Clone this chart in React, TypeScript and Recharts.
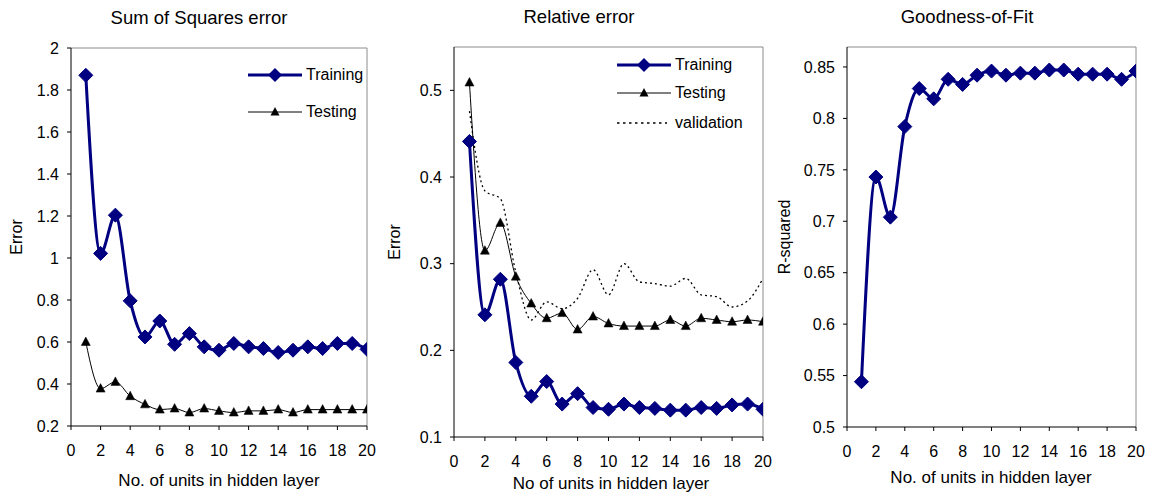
import React from 'react';
import { LineChart, Line, XAxis, YAxis, ReferenceLine } from 'recharts';

const NAVY = '#000080';
const FRAME = '#8c8c8c';
const FONT = '"Liberation Sans", Arial, Helvetica, sans-serif';

// categories
const units = [1, 2, 3, 4, 5, 6, 7, 8, 9, 10, 11, 12, 13, 14, 15, 16, 17, 18, 19, 20];
const xTicks = [0, 2, 4, 6, 8, 10, 12, 14, 16, 18, 20];

// Sum of squares error
const sseTraining = [1.87, 1.022, 1.204, 0.796, 0.624, 0.7, 0.589, 0.64, 0.577, 0.561, 0.593, 0.577, 0.569, 0.55, 0.561, 0.577, 0.569, 0.593, 0.593, 0.565];
const sseTesting = [0.6, 0.378, 0.41, 0.342, 0.303, 0.278, 0.283, 0.264, 0.283, 0.272, 0.264, 0.272, 0.272, 0.278, 0.264, 0.278, 0.278, 0.278, 0.278, 0.278];
const sseTicks = [0.2, 0.4, 0.6, 0.8, 1, 1.2, 1.4, 1.6, 1.8, 2];

// Relative error
const relTraining = [0.441, 0.241, 0.282, 0.186, 0.147, 0.164, 0.138, 0.15, 0.134, 0.132, 0.138, 0.134, 0.133, 0.131, 0.131, 0.134, 0.133, 0.137, 0.138, 0.132];
const relTesting = [0.509, 0.315, 0.347, 0.285, 0.254, 0.237, 0.243, 0.224, 0.239, 0.231, 0.228, 0.228, 0.228, 0.235, 0.228, 0.237, 0.235, 0.233, 0.235, 0.233];
const relValidation = [0.476, 0.384, 0.375, 0.29, 0.235, 0.256, 0.248, 0.26, 0.293, 0.264, 0.3, 0.279, 0.277, 0.274, 0.283, 0.264, 0.262, 0.25, 0.257, 0.283];
const relTicks = [0.1, 0.2, 0.3, 0.4, 0.5];

// Goodness of fit
const rSquared = [0.544, 0.743, 0.704, 0.792, 0.829, 0.819, 0.838, 0.833, 0.842, 0.846, 0.842, 0.844, 0.844, 0.847, 0.847, 0.843, 0.843, 0.843, 0.838, 0.846];
const r2Ticks = [0.5, 0.55, 0.6, 0.65, 0.7, 0.75, 0.8, 0.85];

const sseData = units.map((x, i) => ({ x, training: sseTraining[i], testing: sseTesting[i] }));
const relData = units.map((x, i) => ({ x, training: relTraining[i], testing: relTesting[i], validation: relValidation[i] }));
const r2Data = units.map((x, i) => ({ x, r2: rSquared[i] }));

const Diamond = (props: any) => {
  const { cx, cy, index } = props;
  if (cx == null || cy == null) return <g key={`dn${index}`} />;
  const r = 7;
  return (
    <polygon key={`d${index}`} points={`${cx},${cy - r} ${cx + r},${cy} ${cx},${cy + r} ${cx - r},${cy}`} fill={NAVY} stroke={NAVY} strokeWidth={1} />
  );
};

const Triangle = (props: any) => {
  const { cx, cy, index } = props;
  if (cx == null || cy == null) return <g key={`tn${index}`} />;
  return (
    <polygon key={`t${index}`} points={`${cx},${cy - 5} ${cx + 4.5},${cy + 3.5} ${cx - 4.5},${cy + 3.5}`} fill="#000" stroke="#000" strokeWidth={0.5} />
  );
};

const tickStyle = { fill: '#000', fontSize: 16, fontFamily: FONT };

type PanelProps = {
  left: number;
  width: number;
  plotTop: number;
  plotBottom: number;
  plotLeft: number;
  plotRight: number;
  yDomain: [number, number];
  yTicks: number[];
  xTickMargin: number;
  children: React.ReactNode;
  data: any[];
};

const Panel = ({ left, width, plotTop, plotBottom, plotLeft, plotRight, yDomain, yTicks, xTickMargin, children, data }: PanelProps) => {
  const H = 493;
  const xAxisH = 30;
  return (
    <div style={{ position: 'absolute', left, top: 0 }}>
      <LineChart
        width={width}
        height={H}
        data={data}
        margin={{ top: plotTop, right: left + width - plotRight, bottom: H - plotBottom - xAxisH, left: 0 }}
      >
        <XAxis
          dataKey="x"
          type="number"
          domain={[0, 20]}
          ticks={xTicks}
          interval={0}
          height={xAxisH}
          tickSize={4}
          tickMargin={xTickMargin}
          tick={tickStyle}
          axisLine={{ stroke: '#000', strokeWidth: 1 }}
          tickLine={{ stroke: '#000' }}
          allowDataOverflow
        />
        <YAxis
          type="number"
          domain={yDomain}
          ticks={yTicks}
          interval={0}
          width={plotLeft - left}
          tickSize={4}
          tickMargin={8}
          tick={tickStyle}
          axisLine={{ stroke: '#000', strokeWidth: 1 }}
          tickLine={{ stroke: '#000' }}
          allowDataOverflow
        />
        <ReferenceLine y={yDomain[1]} stroke={FRAME} strokeWidth={1} ifOverflow="extendDomain" />
        <ReferenceLine x={20} stroke={FRAME} strokeWidth={1} ifOverflow="extendDomain" />
        {children}
      </LineChart>
    </div>
  );
};

const Text = ({ x, y, size, children, rotate }: { x: number; y: number; size: number; children: React.ReactNode; rotate?: boolean }) => (
  <div
    style={{
      position: 'absolute',
      left: x,
      top: y,
      transform: `translate(-50%, -50%)${rotate ? ' rotate(-90deg)' : ''}`,
      fontFamily: FONT,
      fontSize: size,
      color: '#000',
      whiteSpace: 'nowrap',
      lineHeight: 1,
    }}
  >
    {children}
  </div>
);

const LegendItem = ({ x, y, kind, label }: { x: number; y: number; kind: 'train' | 'test' | 'valid'; label: string }) => (
  <div style={{ position: 'absolute', left: x, top: y - 12, height: 24, display: 'flex', alignItems: 'center', fontFamily: FONT, fontSize: 16 }}>
    <svg width={54} height={24} style={{ display: 'block' }}>
      {kind === 'train' && (
        <>
          <line x1={0} y1={12} x2={54} y2={12} stroke={NAVY} strokeWidth={3} />
          <polygon points="27,5 34,12 27,19 20,12" fill={NAVY} />
        </>
      )}
      {kind === 'test' && (
        <>
          <line x1={0} y1={12} x2={54} y2={12} stroke="#000" strokeWidth={1} />
          <polygon points="27,7 31.5,15.5 22.5,15.5" fill="#000" />
        </>
      )}
      {kind === 'valid' && <line x1={0} y1={12} x2={50} y2={12} stroke="#000" strokeWidth={1.5} strokeDasharray="2.5 3.5" />}
    </svg>
    <span style={{ marginLeft: 4 }}>{label}</span>
  </div>
);

export default function App() {
  return (
    <div style={{ position: 'absolute', left: 0, top: 0, width: 1149, height: 493, background: '#fff', overflow: 'hidden' }}>
      {/* Panel 1 */}
      <Panel left={0} width={380} plotLeft={71} plotRight={367} plotTop={48} plotBottom={426} yDomain={[0.2, 2]} yTicks={sseTicks} xTickMargin={15} data={sseData}>
        <Line dataKey="testing" type="monotone" stroke="#000" strokeWidth={1} dot={Triangle} activeDot={false} isAnimationActive={false} />
        <Line dataKey="training" type="monotone" stroke={NAVY} strokeWidth={3} dot={Diamond} activeDot={false} isAnimationActive={false} />
      </Panel>
      {/* Panel 2 */}
      <Panel left={380} width={395} plotLeft={454} plotRight={763} plotTop={47} plotBottom={437} yDomain={[0.1, 0.55]} yTicks={relTicks} xTickMargin={15} data={relData}>
        <Line dataKey="validation" type="monotone" stroke="#000" strokeWidth={1.3} strokeDasharray="2 3" dot={false} activeDot={false} isAnimationActive={false} />
        <Line dataKey="testing" type="monotone" stroke="#000" strokeWidth={1} dot={Triangle} activeDot={false} isAnimationActive={false} />
        <Line dataKey="training" type="monotone" stroke={NAVY} strokeWidth={3} dot={Diamond} activeDot={false} isAnimationActive={false} />
      </Panel>
      {/* Panel 3 */}
      <Panel left={775} width={374} plotLeft={847} plotRight={1136} plotTop={47} plotBottom={427} yDomain={[0.5, 0.8694]} yTicks={r2Ticks} xTickMargin={15} data={r2Data}>
        <Line dataKey="r2" type="monotone" stroke={NAVY} strokeWidth={3} dot={Diamond} activeDot={false} isAnimationActive={false} />
      </Panel>

      {/* Titles */}
      <Text x={199} y={18} size={18.5}>Sum of Squares error</Text>
      <Text x={579} y={17} size={18.5}>Relative error</Text>
      <Text x={967} y={17} size={18.5}>Goodness-of-Fit</Text>

      {/* Axis titles */}
      <Text x={219} y={480} size={17}>No. of units in hidden layer</Text>
      <Text x={611} y={483} size={17}>No of units in hidden layer</Text>
      <Text x={991} y={477} size={17}>No. of units in hidden layer</Text>
      <Text x={17} y={237} size={16} rotate>Error</Text>
      <Text x={395} y={242} size={16} rotate>Error</Text>
      <Text x={785} y={237} size={16} rotate>R-squared</Text>

      {/* Legends */}
      <LegendItem x={248} y={75} kind="train" label="Training" />
      <LegendItem x={248} y={112} kind="test" label="Testing" />
      <LegendItem x={617} y={65} kind="train" label="Training" />
      <LegendItem x={617} y={93} kind="test" label="Testing" />
      <LegendItem x={617} y={123} kind="valid" label="validation" />
    </div>
  );
}
